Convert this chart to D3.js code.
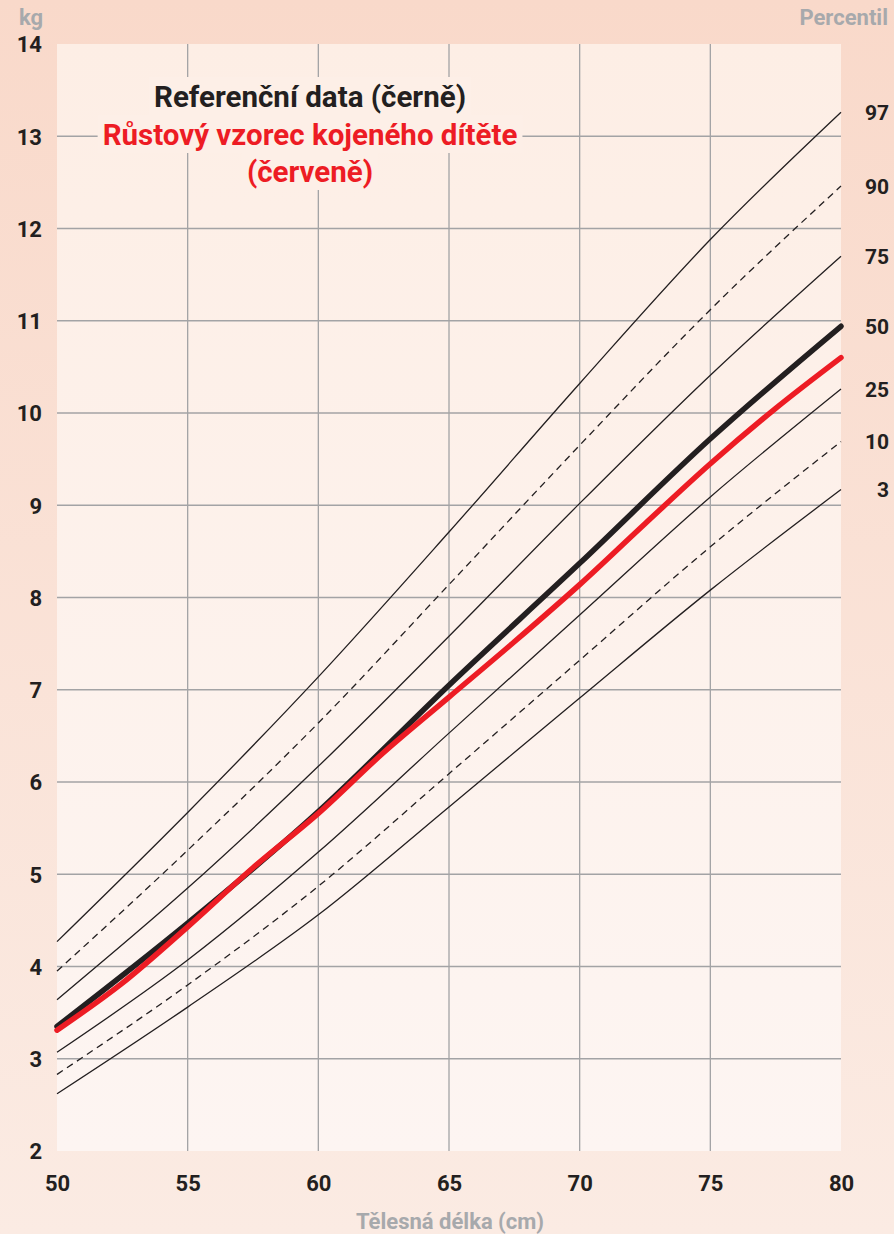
<!DOCTYPE html>
<html>
<head>
<meta charset="utf-8">
<script src="https://cdn.jsdelivr.net/npm/d3@7"></script>
<style>
  body { margin: 0; padding: 0; background: #fbe4d9; }
  svg { display: block; }
  .tick text { font-family: "Liberation Sans Narrow", "Roboto", sans-serif; font-weight: bold; fill: #231f20; }
</style>
</head>
<body>
<div id="chart"></div>
<script>
// body length (cm) for the percentile curves
const lengths = [50, 55, 60, 65, 70, 75, 80];
// reference percentiles (kg)
const p97 = [4.27, 5.67, 7.14, 8.71, 10.32, 11.88, 13.26];
const p90 = [3.95, 5.26, 6.64, 8.14, 9.65, 11.12, 12.46];
const p75 = [3.64, 4.85, 6.17, 7.58, 9.02, 10.41, 11.70];
const p50 = [3.35, 4.47, 5.68, 7.05, 8.37, 9.72, 10.94];
const p25 = [3.07, 4.07, 5.24, 6.53, 7.81, 9.09, 10.26];
const p10 = [2.83, 3.80, 4.87, 6.09, 7.32, 8.55, 9.69];
const p3  = [2.62, 3.56, 4.56, 5.73, 6.91, 8.08, 9.17];
// breastfed infant growth pattern (red)
const redLengths = [50, 52.5, 55, 57.5, 60, 62.5, 65, 67.5, 70, 72.5, 75, 77.5, 80];
const redWeights = [3.31, 3.82, 4.43, 5.07, 5.66, 6.32, 6.92, 7.52, 8.14, 8.80, 9.45, 10.05, 10.60];

const percentileNames = ["97", "90", "75", "50", "25", "10", "3"];
const percentileSeries = [p97, p90, p75, p50, p25, p10, p3];
const xTicks = [50, 55, 60, 65, 70, 75, 80];
const yTicks = [2, 3, 4, 5, 6, 7, 8, 9, 10, 11, 12, 13, 14];

const W = 894, H = 1234;
const margin = {top: 44, right: 53, bottom: 83, left: 57};
const innerW = W - margin.left - margin.right;
const innerH = H - margin.top - margin.bottom;
const fontFam = "'Liberation Sans Narrow', Roboto, sans-serif";

const svg = d3.select("#chart").append("svg")
    .attr("width", W)
    .attr("height", H);

// gradients for frame and plot
const defs = svg.append("defs");
const outerGrad = defs.append("linearGradient").attr("id", "outerGrad")
    .attr("x1", 0).attr("y1", 0).attr("x2", 0).attr("y2", 1);
outerGrad.append("stop").attr("offset", "0%").attr("stop-color", "#f9d9ca");
outerGrad.append("stop").attr("offset", "100%").attr("stop-color", "#fbebe3");

const plotGrad = defs.append("linearGradient").attr("id", "plotGrad")
    .attr("x1", 0).attr("y1", 0).attr("x2", 0).attr("y2", 1);
plotGrad.append("stop").attr("offset", "0%").attr("stop-color", "#fdeee5");
plotGrad.append("stop").attr("offset", "100%").attr("stop-color", "#fdf5f2");

svg.append("rect").attr("width", W).attr("height", H).attr("fill", "url(#outerGrad)");

const g = svg.append("g").attr("transform", `translate(${margin.left},${margin.top})`);

g.append("rect").attr("width", innerW).attr("height", innerH).attr("fill", "url(#plotGrad)");

const x = d3.scaleLinear().domain([50, 80]).range([0, innerW]);
const y = d3.scaleLinear().domain([2, 14]).range([innerH, 0]);

// grid lines (inner only)
g.append("g").attr("class", "grid")
    .selectAll("line")
    .data(xTicks.filter(d => d > 50 && d < 80))
    .enter().append("line")
    .attr("x1", d => x(d)).attr("x2", d => x(d))
    .attr("y1", 0).attr("y2", innerH)
    .attr("stroke", "#a3a3a5").attr("stroke-width", 1.3);

g.append("g").attr("class", "grid")
    .selectAll("line")
    .data(yTicks.filter(d => d > 2 && d < 14))
    .enter().append("line")
    .attr("x1", 0).attr("x2", innerW)
    .attr("y1", d => y(d)).attr("y2", d => y(d))
    .attr("stroke", "#a3a3a5").attr("stroke-width", 1.3);

// title block with knockout backgrounds
const titleG = g.append("g");
const titleLines = [
    {text: "Referenční data (černě)", color: "#231f20", y: 107 - margin.top},
    {text: "Růstový vzorec kojeného dítěte", color: "#ed1c24", y: 145 - margin.top},
    {text: "(červeně)", color: "#ed1c24", y: 182 - margin.top}
];
const titleX = 310 - margin.left;
const bgLayer = titleG.append("g");
titleLines.forEach(t => {
    const txt = titleG.append("text")
        .attr("x", titleX).attr("y", t.y)
        .attr("text-anchor", "middle")
        .attr("font-family", fontFam)
        .attr("font-weight", "bold")
        .attr("font-size", 29.5)
        .attr("fill", t.color)
        .text(t.text);
    const bb = txt.node().getBBox();
    bgLayer.append("rect")
        .attr("x", bb.x - 5).attr("y", bb.y - 3)
        .attr("width", bb.width + 10).attr("height", bb.height + 4)
        .attr("fill", "#fdefe7");
});

// percentile curves
const line = d3.line()
    .x((d, i) => x(lengths[i]))
    .y(d => y(d))
    .curve(d3.curveMonotoneX);

percentileSeries.forEach((s, k) => {
    const name = percentileNames[k];
    if (name === "50") return;
    g.append("path")
        .datum(s)
        .attr("d", line)
        .attr("fill", "none")
        .attr("stroke", "#231f20")
        .attr("stroke-width", 1.3)
        .attr("stroke-dasharray", (name === "90" || name === "10") ? "7,5" : null);
});

g.append("path")
    .datum(p50)
    .attr("d", line)
    .attr("fill", "none")
    .attr("stroke", "#231f20")
    .attr("stroke-width", 5.5)
    .attr("stroke-linejoin", "round")
    .attr("stroke-linecap", "round");

const redLine = d3.line()
    .x((d, i) => x(redLengths[i]))
    .y(d => y(d))
    .curve(d3.curveMonotoneX);

g.append("path")
    .datum(redWeights)
    .attr("d", redLine)
    .attr("fill", "none")
    .attr("stroke", "#ed1c24")
    .attr("stroke-width", 5.5)
    .attr("stroke-linecap", "round");

// axes
const yAxis = g.append("g")
    .call(d3.axisLeft(y).tickValues(yTicks).tickSize(0).tickPadding(15).tickFormat(d3.format("d")));
yAxis.select(".domain").remove();
yAxis.selectAll("text").attr("font-size", 22).attr("dy", "0.36em");

const xAxis = g.append("g")
    .attr("transform", `translate(0,${innerH})`)
    .call(d3.axisBottom(x).tickValues(xTicks).tickSize(0).tickPadding(24).tickFormat(d3.format("d")));
xAxis.select(".domain").remove();
xAxis.selectAll("text").attr("font-size", 22);

// percentile labels at right end
g.append("g").selectAll("text")
    .data(percentileSeries)
    .enter().append("text")
    .attr("x", 889 - margin.left)
    .attr("y", d => y(d[d.length - 1]))
    .attr("dy", "0.36em")
    .attr("text-anchor", "end")
    .attr("font-family", fontFam)
    .attr("font-weight", "bold")
    .attr("font-size", 21)
    .attr("fill", "#231f20")
    .text((d, i) => percentileNames[i]);

// unit labels
const labelStyle = sel => sel
    .attr("font-family", fontFam)
    .attr("font-weight", "bold")
    .attr("font-size", 22)
    .attr("fill", "#a7a9ac");

svg.append("text").attr("x", 31).attr("y", 25).attr("text-anchor", "middle")
    .call(labelStyle).text("kg");
svg.append("text").attr("x", 888).attr("y", 25).attr("text-anchor", "end")
    .call(labelStyle).text("Percentil");
svg.append("text").attr("x", 450).attr("y", 1229).attr("text-anchor", "middle")
    .call(labelStyle).text("Tělesná délka (cm)");
</script>
</body>
</html>
